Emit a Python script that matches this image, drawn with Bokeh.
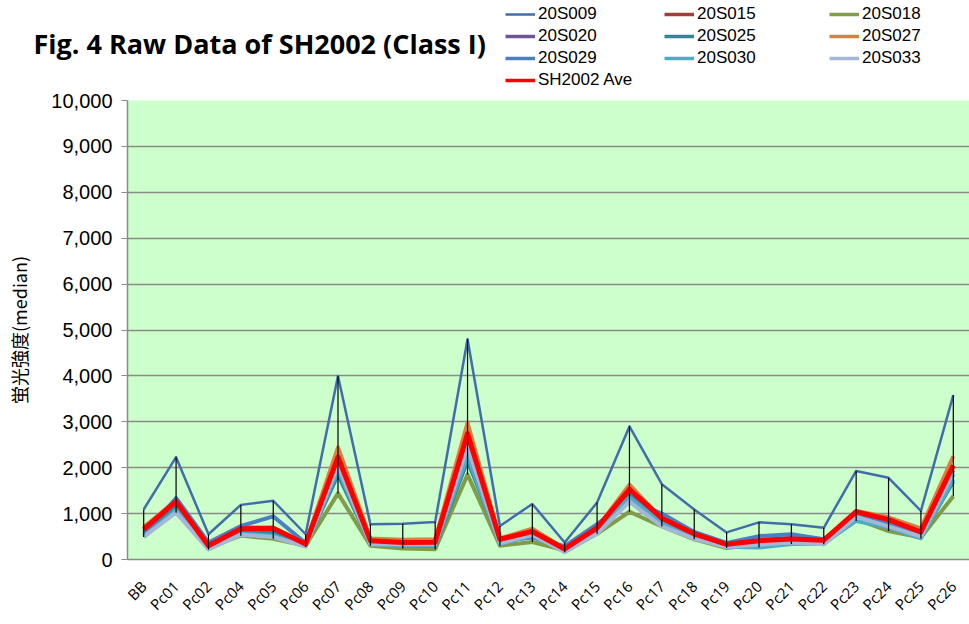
import math
import numpy as np
from bokeh.plotting import figure
from bokeh.layouts import column
from bokeh.models import (FactorRange, Range1d, Legend, LegendItem, Label,
                          NumeralTickFormatter, FixedTicker)
from bokeh.embed import file_html
from bokeh.resources import INLINE

cats = ["BB", "Pc01", "Pc02", "Pc04", "Pc05", "Pc06", "Pc07", "Pc08", "Pc09", "Pc10",
        "Pc11", "Pc12", "Pc13", "Pc14", "Pc15", "Pc16", "Pc17", "Pc18", "Pc19", "Pc20",
        "Pc21", "Pc22", "Pc23", "Pc24", "Pc25", "Pc26"]

s20S009 = [1090, 2230, 550, 1190, 1280, 550, 4000, 770, 780, 815, 4800, 730, 1210, 370, 1240, 2900, 1640, 1090, 590, 810, 770, 690, 1930, 1780, 1060, 3580]
s20S015 = [640, 1250, 320, 640, 640, 340, 2250, 420, 380, 380, 2800, 430, 600, 230, 680, 1520, 880, 540, 320, 400, 430, 410, 1020, 860, 590, 2050]
s20S018 = [720, 1120, 260, 520, 450, 300, 1440, 300, 240, 225, 1850, 300, 380, 200, 560, 1040, 720, 440, 250, 330, 360, 340, 880, 620, 480, 1380]
s20S020 = [600, 1200, 300, 620, 600, 320, 2150, 380, 340, 340, 2600, 400, 560, 220, 650, 1450, 850, 520, 300, 420, 470, 400, 980, 800, 560, 1950]
s20S025 = [560, 1180, 330, 600, 580, 310, 1850, 350, 300, 300, 2150, 380, 500, 260, 700, 1420, 900, 560, 290, 360, 400, 380, 870, 760, 490, 1700]
s20S027 = [700, 1290, 330, 700, 690, 360, 2440, 460, 430, 440, 2980, 460, 670, 240, 690, 1630, 880, 580, 340, 380, 440, 430, 1060, 920, 680, 2250]
s20S029 = [520, 1340, 370, 730, 940, 360, 2100, 380, 320, 300, 2350, 400, 480, 290, 770, 1300, 1000, 600, 360, 510, 550, 440, 960, 820, 530, 1850]
s20S030 = [490, 1080, 240, 560, 520, 290, 1950, 340, 300, 310, 2250, 340, 520, 190, 620, 1350, 790, 480, 280, 260, 340, 350, 840, 700, 460, 1750]
s20S033 = [500, 1020, 220, 540, 490, 280, 2050, 330, 330, 330, 2450, 350, 540, 160, 560, 1260, 720, 450, 270, 320, 370, 330, 930, 720, 500, 1900]
sAve = [655, 1265, 300, 670, 680, 335, 2230, 410, 370, 375, 2740, 440, 610, 230, 690, 1530, 900, 560, 330, 410, 445, 420, 1040, 870, 600, 2050]

names = ["20S009", "20S015", "20S018", "20S020", "20S025", "20S027", "20S029", "20S030", "20S033", "SH2002 Ave"]
series = [s20S009, s20S015, s20S018, s20S020, s20S025, s20S027, s20S029, s20S030, s20S033, sAve]
colors = ["#416DAA", "#A0403D", "#809C48", "#6F5597", "#31869B", "#D9803E",
          "#4A7FC1", "#4BACC6", "#A3B7D6", "#FF0000"]
widths = [2.5, 4, 4, 4, 4, 4, 4, 4, 4, 5]
yticks = list(range(0, 10001, 1000))
title_text = "Fig. 4 Raw Data of SH2002 (Class I)"

W = 969
HH = 90                 # header height
H = 624 - HH            # main figure height
FL, FT = 127, 10        # frame left / top in main figure
FB = 567 - HH           # frame bottom in main figure

def no_align(fig):
    try:
        fig.frame_align = False
    except Exception:
        pass

# ---------- header: title + legend ----------
hdr = figure(width=W, height=HH, x_range=Range1d(0, W), y_range=Range1d(HH, 0),
             output_backend="svg", toolbar_location=None, x_axis_type=None,
             y_axis_type=None, min_border=0, outline_line_color=None,
             background_fill_color="white", border_fill_color="white")
hdr.xgrid.visible = False
hdr.ygrid.visible = False
no_align(hdr)

hdr.add_layout(Label(x=33, y=43, text=title_text, text_font="Open Sans",
                     text_font_style="bold", text_font_size="27px",
                     text_baseline="middle", text_color="black"))

# legend-only renderers (no visible data)
dummies = [hdr.line(x=[np.nan], y=[np.nan], line_color=c, line_width=min(w, 3.5))
           for c, w in zip(colors, widths)]

cols = [[0, 3, 6, 9], [1, 4, 7], [2, 5, 8]]
col_x = [505, 664, 829]
for idxs, cx in zip(cols, col_x):
    items = [LegendItem(label=names[i], renderers=[dummies[i]]) for i in idxs]
    bottom = 4 + len(idxs) * 20 + (len(idxs) - 1) * 2
    lg = Legend(items=items, location=(cx, HH - bottom),
                orientation="vertical", padding=0, margin=0, spacing=2,
                label_height=20, glyph_height=20, glyph_width=30, label_standoff=3,
                label_text_font="Liberation Sans", label_text_font_size="17px",
                label_text_color="black", border_line_color=None,
                background_fill_alpha=0)
    hdr.add_layout(lg)

# ---------- main chart ----------
p = figure(x_range=FactorRange(*cats), y_range=Range1d(0, 10000),
           width=W, height=H, output_backend="svg", toolbar_location=None,
           min_border_left=FL, min_border_right=0, min_border_top=FT,
           min_border_bottom=H - FB, background_fill_color="#CCFFCC",
           border_fill_color="white", outline_line_color=None)
no_align(p)

for ys, c, w in zip(series, colors, widths):
    p.line(cats, ys, line_color=c, line_width=w, line_join="round")

hi = np.max(np.array(series), axis=0)
lo = np.min(np.array(series), axis=0)
p.segment(x0=cats, y0=list(lo), x1=cats, y1=list(hi), line_color="black", line_width=1.2)

p.xgrid.grid_line_color = None
p.ygrid.grid_line_color = "#8A8A8A"
p.ygrid.grid_line_width = 1.5

p.yaxis.ticker = FixedTicker(ticks=yticks)
p.yaxis.formatter = NumeralTickFormatter(format="0,0")
p.yaxis.minor_tick_line_color = None
p.yaxis.major_tick_in = 0
p.yaxis.major_tick_out = 6
p.yaxis.major_tick_line_color = "#8A8A8A"
p.yaxis.axis_line_color = "#8A8A8A"
p.yaxis.axis_line_width = 1.5
p.yaxis.major_label_text_font = "Liberation Sans"
p.yaxis.major_label_text_font_size = "20px"
p.yaxis.major_label_text_color = "black"
p.yaxis.major_label_standoff = 9
p.yaxis.axis_label = "蛍光強度(median)"
p.yaxis.axis_label_text_font = "Noto Sans CJK JP"
p.yaxis.axis_label_text_font_size = "18px"
p.yaxis.axis_label_text_font_style = "normal"
p.yaxis.axis_label_text_color = "black"
p.yaxis.axis_label_standoff = 16

p.xaxis.major_tick_line_color = None
p.xaxis.minor_tick_line_color = None
p.xaxis.axis_line_color = "#8A8A8A"
p.xaxis.axis_line_width = 1.5
p.xaxis.major_label_orientation = math.pi / 4
p.xaxis.major_label_text_font = "Open Sans"
p.xaxis.major_label_text_font_size = "15px"
p.xaxis.major_label_text_color = "black"
p.xaxis.major_label_standoff = 18

layout = column(hdr, p, spacing=0)
open("out.html", "w").write(file_html(layout, INLINE))
